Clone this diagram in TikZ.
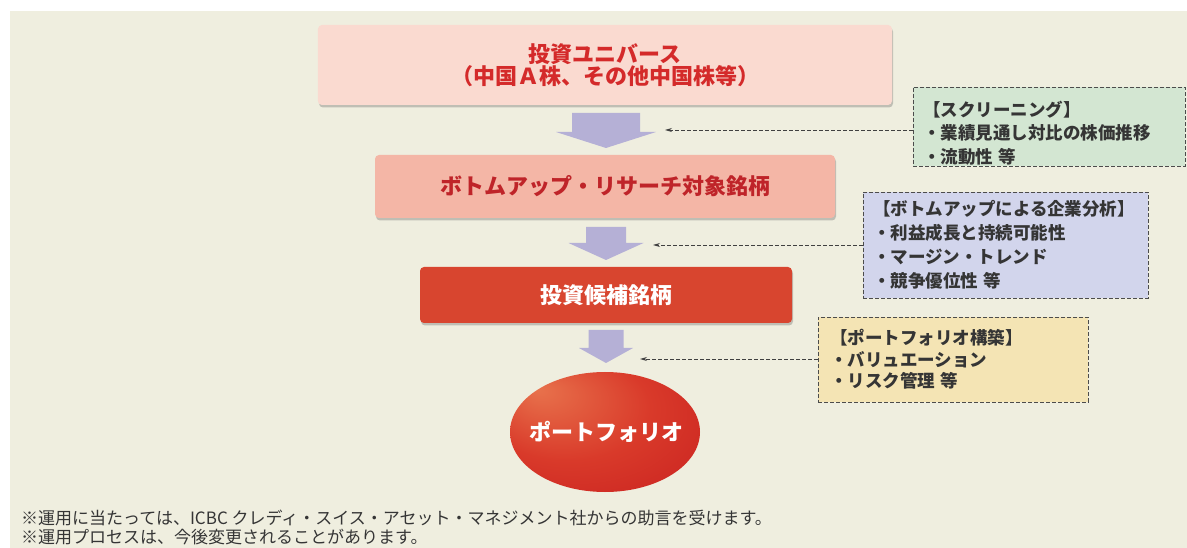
\documentclass[tikz,border=0pt]{standalone}
\usepackage{fontspec}
\setmainfont{Noto Sans CJK JP}
\usetikzlibrary{shadows,arrows.meta,shapes.geometric}
\definecolor{bg}{HTML}{EFEEDF}
\definecolor{boxA}{HTML}{FADAD0}
\definecolor{txtA}{HTML}{D42A2A}
\definecolor{boxB}{HTML}{F4B6A6}
\definecolor{txtB}{HTML}{BF2429}
\definecolor{boxC}{HTML}{D8452F}
\definecolor{arrowcol}{HTML}{B5B0D6}
\definecolor{grn}{HTML}{D3E6D2}
\definecolor{blu}{HTML}{D2D5EC}
\definecolor{ylw}{HTML}{F4E4B4}
\definecolor{gtxt}{HTML}{353535}
\definecolor{eA}{HTML}{E8724C}
\definecolor{eB}{HTML}{D93A2A}
\definecolor{eC}{HTML}{C3181C}
\pgfdeclareradialshading{ellshade}{\pgfpoint{-18bp}{18bp}}{color(0bp)=(eA); color(22bp)=(eB); color(50bp)=(eC)}
\newcommand\dnarrow[6]{\fill[arrowcol] ({#1-#3},#2) -- ({#1+#3},#2) -- ({#1+#3},#5) -- ({#1+#4},#5) -- (#1,#6) -- ({#1-#4},#5) -- ({#1-#3},#5) -- cycle;}
\tikzset{
  flowbox/.style={rectangle, rounded corners=4bp, inner sep=0pt, align=center,
    drop shadow={shadow xshift=1bp, shadow yshift=-2.5bp, opacity=0.35, fill=black!60}},
  notebox/.style={rectangle, draw=black!70, dashed, dash pattern=on 4bp off 2bp, line width=0.8bp,
    inner xsep=10bp, inner ysep=0pt, align=left, text=gtxt,
    font=\bfseries\fontsize{17.5bp}{23.5bp}\selectfont},
  conn/.style={draw=black!75, line width=0.8bp, dash pattern=on 4bp off 2bp, -{Stealth[length=7bp,width=4bp]}},
}
\begin{document}
\begin{tikzpicture}[x=1bp,y=-1bp]
\useasboundingbox (0,0) rectangle (1187,548);
\fill[white] (0,0) rectangle (1187,548);
\fill[bg] (10,11) rectangle (1187,548);

% main flow boxes
\node[flowbox, fill=boxA, minimum width=574bp, minimum height=80bp, text=txtA,
  font=\bfseries\fontsize{22bp}{22bp}\selectfont] (univ) at (605,65)
  {投資ユニバース\\（中国Ａ株、その他中国株等）};
\node[flowbox, fill=boxB, minimum width=460bp, minimum height=63bp, text=txtB,
  font=\bfseries\fontsize{22bp}{24bp}\selectfont] (bu) at (605,186.5)
  {ボトムアップ・リサーチ対象銘柄};
\node[flowbox, fill=boxC, minimum width=372bp, minimum height=56bp, text=white,
  font=\bfseries\fontsize{22bp}{24bp}\selectfont] (cand) at (606,295)
  {投資候補銘柄};

% portfolio ellipse
\shade[shading=ellshade] (605,432) ellipse [x radius=95bp, y radius=60bp];
\node[text=white, inner sep=0pt, font=\bfseries\fontsize{22bp}{24bp}\selectfont] (port) at (606,432)
  {ポートフォリオ};

% block arrows
\dnarrow{606}{113}{34}{50}{132}{148}
\dnarrow{606}{227}{20}{37.5}{243}{260}
\dnarrow{606}{330}{17.5}{27}{348}{363}

% note boxes
\node[notebox, fill=grn, minimum width=272bp, minimum height=79bp, text width=252bp] (scr) at (1049,126.5)
  {\rule{0pt}{28bp}【スクリーニング】\\・業績見通し対比の株価推移\\・流動性 等};
\node[notebox, fill=blu, minimum width=285bp, minimum height=106bp, text width=265bp,
  font=\bfseries\fontsize{17.5bp}{24bp}\selectfont] (ana) at (1005.5,245)
  {【ボトムアップによる企業分析】\\・利益成長と持続可能性\\・マージン・トレンド\\・競争優位性 等};
\node[notebox, fill=ylw, inner xsep=12bp, minimum width=270bp, minimum height=85bp, text width=246bp,
  font=\bfseries\fontsize{17.5bp}{21.5bp}\selectfont] (pc) at (953,359.5)
  {【ポートフォリオ構築】\\・バリュエーション\\・リスク管理 等};

% dashed connectors
\coordinate (t1) at (665,130);
\coordinate (t2) at (653,245);
\coordinate (t3) at (640,359);
\draw[conn] (scr.west |- t1) -- (t1);
\draw[conn] (ana.west |- t2) -- (t2);
\draw[conn] (pc.west |- t3) -- (t3);

% footnotes
\node[anchor=west, inner sep=0pt, text=gtxt, font=\fontsize{17bp}{18bp}\selectfont] (fn1) at (21,518)
  {※運用に当たっては、ICBC クレディ・スイス・アセット・マネジメント社からの助言を受けます。};
\node[anchor=west, inner sep=0pt, text=gtxt, font=\fontsize{17bp}{18bp}\selectfont] (fn2) at (21,537)
  {※運用プロセスは、今後変更されることがあります。};
\end{tikzpicture}
\end{document}
